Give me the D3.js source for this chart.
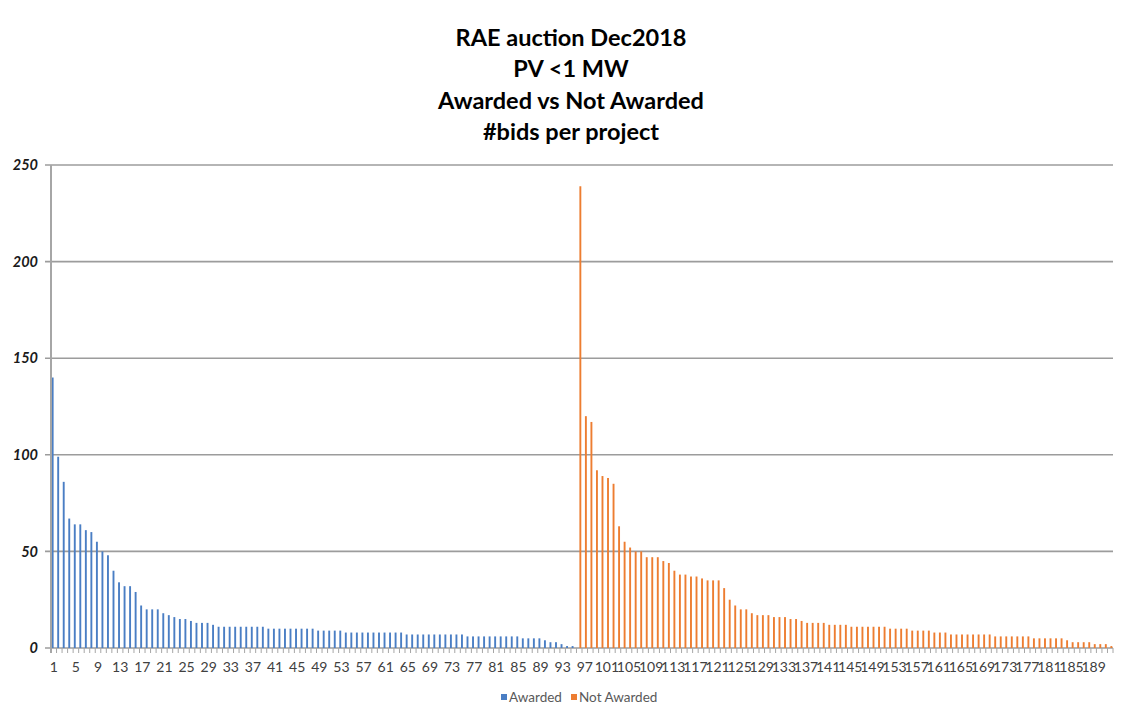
<!DOCTYPE html>
<html>
<head>
<meta charset="utf-8">
<script src="https://cdn.jsdelivr.net/npm/d3@7"></script>
<style>
body { margin: 0; background: #fff; }
svg { font-family: Lato, "Open Sans", sans-serif; }
</style>
</head>
<body>
<svg width="1125" height="704"></svg>
<script>
// chart data
var titleLines = ["RAE auction Dec2018", "PV <1 MW", "Awarded vs Not Awarded", "#bids per project"];
var seriesNames = ["Awarded", "Not Awarded"];
var colors = ["#4a7ec4", "#ed7d31"];

// bids per project, awarded projects (categories 1..95)
var awarded = [140, 99, 86, 67, 64, 64, 61, 60, 55, 50,
    48, 40, 34, 32, 32, 29, 22, 20, 20, 20,
    18, 17, 16, 15, 15, 14, 13, 13, 13, 12,
    11, 11, 11, 11, 11, 11, 11, 11, 11, 10,
    10, 10, 10, 10, 10, 10, 10, 10, 9, 9,
    9, 9, 9, 8, 8, 8, 8, 8, 8, 8,
    8, 8, 8, 8, 7, 7, 7, 7, 7, 7,
    7, 7, 7, 7, 7, 6, 6, 6, 6, 6,
    6, 6, 6, 6, 6, 5, 5, 5, 5, 4,
    3, 3, 2, 1, 1];

// bids per project, not awarded projects (categories 96..192)
var notAwarded = [239, 120, 117, 92, 89, 88, 85, 63, 55, 52,
    50, 50, 47, 47, 47, 45, 44, 40, 38, 38,
    37, 37, 36, 35, 35, 35, 31, 25, 22, 20,
    20, 18, 17, 17, 17, 16, 16, 16, 15, 15,
    14, 13, 13, 13, 13, 12, 12, 12, 12, 11,
    11, 11, 11, 11, 11, 11, 10, 10, 10, 10,
    9, 9, 9, 9, 8, 8, 8, 7, 7, 7,
    7, 7, 7, 7, 7, 6, 6, 6, 6, 6,
    6, 6, 5, 5, 5, 5, 5, 5, 4, 3,
    3, 3, 3, 2, 2, 2, 1];

var yTicks = [0, 50, 100, 150, 200, 250];

var categories = d3.range(1, awarded.length + notAwarded.length + 1);
var xLabels = categories.filter(function (c) { return (c - 1) % 4 === 0; });

var rows = categories.map(function (c) {
    return {
        cat: c,
        values: [
            { key: seriesNames[0], value: c <= awarded.length ? awarded[c - 1] : null },
            { key: seriesNames[1], value: c > awarded.length ? notAwarded[c - awarded.length - 1] : null }
        ]
    };
});

var svg = d3.select("svg"),
    plotLeft = 51, plotRight = 1113, plotTop = 165, plotBottom = 648;

var x = d3.scaleBand().domain(categories).range([plotLeft, plotRight]).padding(0);
var x1 = d3.scaleBand().domain(seriesNames).range([0.7, x.bandwidth() - 0.7]).paddingInner(0.15);
var y = d3.scaleLinear().domain([0, 250]).range([plotBottom, plotTop]);
var color = d3.scaleOrdinal().domain(seriesNames).range(colors);

// title
svg.append("g").selectAll("text")
    .data(titleLines)
    .enter()
    .append("text")
    .attr("x", 571)
    .attr("y", function (d, i) { return 46 + i * 31.3; })
    .attr("text-anchor", "middle")
    .style("font-size", "23.5px")
    .style("font-weight", "bold")
    .style("fill", "#000")
    .text(function (d) { return d; });

// gridlines + left ticks
svg.append("g").selectAll("line")
    .data(yTicks)
    .enter()
    .append("line")
    .attr("x1", plotLeft - 6)
    .attr("x2", plotRight)
    .attr("y1", function (d) { return y(d); })
    .attr("y2", function (d) { return y(d); })
    .style("stroke", "#9c9c9c")
    .style("stroke-width", 1.6);

svg.append("g").selectAll("text")
    .data(yTicks)
    .enter()
    .append("text")
    .attr("x", 38)
    .attr("y", function (d) { return y(d); })
    .attr("dy", "0.36em")
    .attr("text-anchor", "end")
    .style("font-size", "14.5px")
    .style("font-weight", "bold")
    .style("font-style", "italic")
    .style("fill", "#1a1a1a")
    .text(function (d) { return d; });

// bars
var group = svg.append("g").selectAll("g")
    .data(rows)
    .enter()
    .append("g")
    .attr("transform", function (d) { return "translate(" + x(d.cat) + ",0)"; });

group.selectAll("rect")
    .data(function (d) { return d.values.filter(function (v) { return v.value !== null; }); })
    .enter()
    .append("rect")
    .attr("x", function (d) { return x1(d.key); })
    .attr("width", x1.bandwidth())
    .attr("y", function (d) { return y(d.value); })
    .attr("height", function (d) { return y(0) - y(d.value); })
    .style("fill", function (d) { return color(d.key); });

// axis lines and category ticks
svg.append("line")
    .attr("x1", plotLeft).attr("x2", plotLeft)
    .attr("y1", plotTop).attr("y2", plotBottom + 5)
    .style("stroke", "#a6a6a6")
    .style("stroke-width", 2);

svg.append("g").selectAll("line")
    .data(categories.slice(1).concat([null]))
    .enter()
    .append("line")
    .attr("x1", function (d) { return d === null ? plotRight : x(d); })
    .attr("x2", function (d) { return d === null ? plotRight : x(d); })
    .attr("y1", plotBottom)
    .attr("y2", plotBottom + 5)
    .style("stroke", "#a6a6a6")
    .style("stroke-width", 1);

svg.append("g").selectAll("text")
    .data(xLabels)
    .enter()
    .append("text")
    .attr("x", function (d) { return x(d) + x.bandwidth() / 2; })
    .attr("y", 672)
    .attr("text-anchor", "middle")
    .style("font-size", "14px")
    .style("fill", "#404040")
    .text(function (d) { return d; });

// legend
var legend = svg.append("g").selectAll("g")
    .data([{ name: seriesNames[0], x: 501 }, { name: seriesNames[1], x: 571 }])
    .enter()
    .append("g")
    .attr("transform", function (d) { return "translate(" + d.x + ",694)"; });

legend.append("rect")
    .attr("width", 6)
    .attr("height", 6)
    .style("fill", function (d) { return color(d.name); });

legend.append("text")
    .attr("x", 8)
    .attr("y", 3)
    .attr("dy", "0.36em")
    .style("font-size", "13.5px")
    .style("fill", "#595959")
    .text(function (d) { return d.name; });
</script>
</body>
</html>
